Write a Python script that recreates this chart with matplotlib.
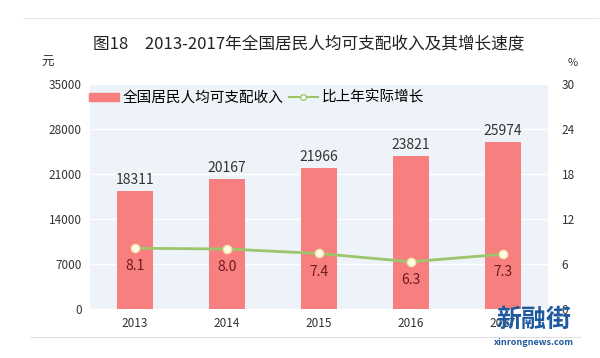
import matplotlib.pyplot as plt
from matplotlib.lines import Line2D

plt.rcParams['font.family'] = ['Noto Sans CJK SC', 'DejaVu Sans']

# 数据
years = ['2013', '2014', '2015', '2016', '2017']
income = [18311, 20167, 21966, 23821, 25974]
growth = [8.1, 8.0, 7.4, 6.3, 7.3]

bar_color = '#F77F7F'
line_color = '#9DC56B'

fig = plt.figure(figsize=(6, 3.58), dpi=100)
ax = fig.add_axes([0.15, 0.137, 0.763, 0.628])
ax.set_facecolor('#EDF3F8')

x = range(len(years))
ax.bar(x, income, width=0.39, color=bar_color, zorder=2)
for i, v in enumerate(income):
    ax.annotate(str(v), (i, v), xytext=(0, 3), textcoords='offset points',
                ha='center', va='bottom', fontsize=10, color='#333333')

ax.set_xlim(-0.49, 4.49)
ax.set_ylim(0, 35000)
ax.set_yticks(range(0, 35001, 7000))
ax.set_xticks(list(x))
ax.set_xticklabels(years)
ax.grid(axis='y', color='white', lw=1, zorder=1)
ax.set_axisbelow(True)
ax.tick_params(length=0, labelsize=8.5, colors='#333333', pad=6)
for s in ax.spines.values():
    s.set_visible(False)

ax2 = ax.twinx()
ax2.plot(x, growth, color=line_color, lw=2, marker='o', ms=6,
         mfc='#FFFBEA', mec='#F3E2A0', mew=1, zorder=3)
for i, v in enumerate(growth):
    ax2.annotate(f'{v:.1f}', (i, v), xytext=(0, -8), textcoords='offset points',
                 ha='center', va='top', fontsize=10, color='#6E1B1B')
ax2.set_ylim(0, 30)
ax2.set_yticks(range(0, 31, 6))
ax2.tick_params(length=0, labelsize=8.5, colors='#333333', pad=10)
for s in ax2.spines.values():
    s.set_visible(False)

# 图例
handles = [plt.Rectangle((0, 0), 1, 1, color=bar_color),
           Line2D([0], [0], color=line_color, lw=1.5, marker='o', ms=4,
                  mfc='white', mec=line_color)]
leg = ax.legend(handles, ['全国居民人均可支配收入', '比上年实际增长'],
                loc='upper left', bbox_to_anchor=(-0.03, 1.03), ncol=2,
                frameon=False, fontsize=10.5, handlelength=2.0, handleheight=0.45,
                columnspacing=0.4, handletextpad=0.25)

fig.text(0.515, 0.875, '图18　2013-2017年全国居民人均可支配收入及其增长速度',
         ha='center', va='center', fontsize=12, color='#222222')
fig.text(0.08, 0.825, '元', ha='center', va='center', fontsize=9, color='#333333')
fig.text(0.955, 0.825, '%', ha='center', va='center', fontsize=8, color='#333333')

# 装饰线
fig.add_artist(Line2D([0.04, 0.997], [0.95, 0.95], color='#E6E6E6', lw=0.8))
fig.add_artist(Line2D([0.05, 0.967], [0.059, 0.059], color='#E0E0E0', lw=0.8))

# 水印
fig.text(0.89, 0.105, '新融街', ha='center', va='center', fontsize=18,
         fontweight='bold', color='#1F5A9E')
fig.text(0.89, 0.043, 'xinrongnews.com', ha='center', va='center', fontsize=6.5,
         fontweight='bold', color='#1F5A9E')

plt.savefig('out.png', dpi=100)
